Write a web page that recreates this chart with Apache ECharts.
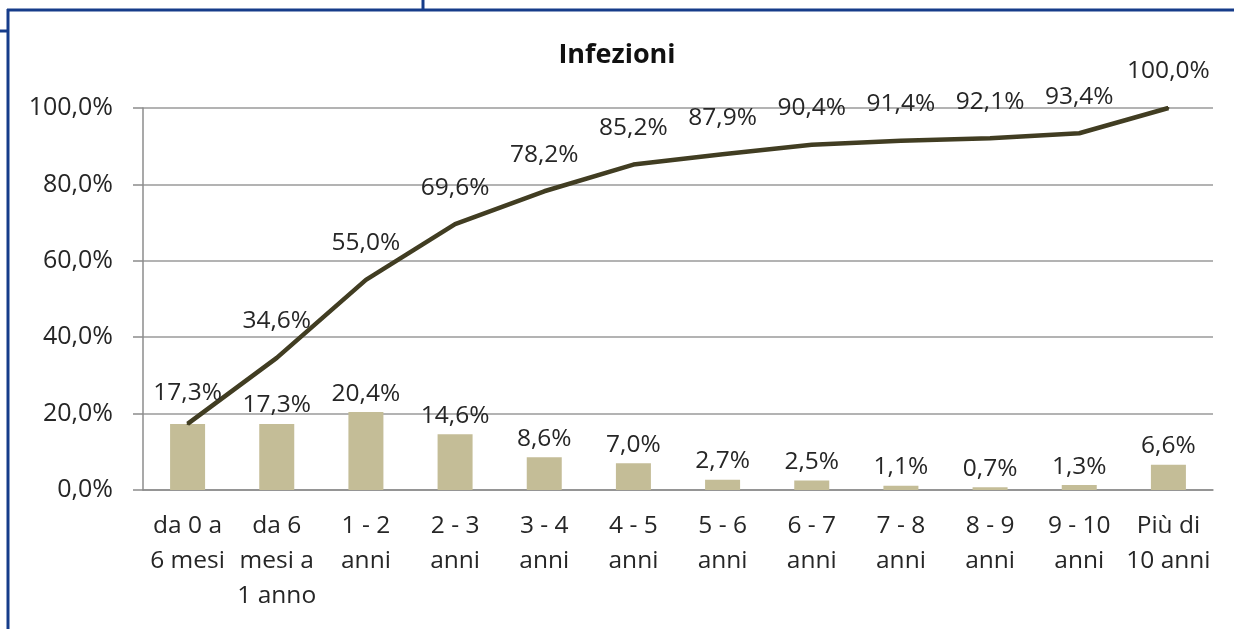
<!DOCTYPE html>
<html>
<head>
<meta charset="utf-8">
<script src="https://cdn.jsdelivr.net/npm/echarts@6/dist/echarts.min.js"></script>
<style>
  html, body { margin: 0; padding: 0; background: #fff; }
  #chart { width: 1234px; height: 629px; }
</style>
</head>
<body>
<div id="chart"></div>
<script>
// fasce d'età
const categories = [
  'da 0 a\n6 mesi', 'da 6\nmesi a\n1 anno', '1 - 2\nanni', '2 - 3\nanni',
  '3 - 4\nanni', '4 - 5\nanni', '5 - 6\nanni', '6 - 7\nanni',
  '7 - 8\nanni', '8 - 9\nanni', '9 - 10\nanni', 'Più di\n10 anni'
];
// percentuale per fascia (barre)
const perc = [17.3, 17.3, 20.4, 14.6, 8.6, 7.0, 2.7, 2.5, 1.1, 0.7, 1.3, 6.6];
// percentuale cumulata (linea)
const cumulata = [17.3, 34.6, 55.0, 69.6, 78.2, 85.2, 87.9, 90.4, 91.4, 92.1, 93.4, 100.0];

const fmt = v => v.toFixed(1).replace('.', ',') + '%';
const font = '"Open Sans", "Liberation Sans", sans-serif';
const blu = '#163c8a';
const testo = '#262626';

const chart = echarts.init(document.getElementById('chart'));
chart.setOption({
  animation: false,
  textStyle: { fontFamily: font },
  title: {
    text: 'Infezioni',
    left: 'center',
    top: 37,
    textStyle: { fontSize: 27, fontWeight: 'bold', color: '#111', fontFamily: font }
  },
  grid: { left: 143, right: 21, top: 108, bottom: 139 },
  xAxis: {
    type: 'category',
    data: categories,
    axisLine: { lineStyle: { color: '#8c8c8c', width: 1.5 } },
    axisTick: { length: 10, lineStyle: { color: '#8c8c8c', width: 1.5 } },
    axisLabel: { interval: 0, fontSize: 24.5, lineHeight: 35, color: testo, margin: 19 }
  },
  yAxis: {
    type: 'value',
    min: 0, max: 100, interval: 20,
    axisLine: { show: true, lineStyle: { color: '#8c8c8c', width: 1.5 } },
    axisTick: { show: true, length: 10, lineStyle: { color: '#8c8c8c', width: 1.5 } },
    splitLine: { lineStyle: { color: '#9a9a9a', width: 1.5 } },
    axisLabel: { fontSize: 25, color: testo, margin: 30, formatter: fmt }
  },
  series: [
    {
      type: 'bar',
      barWidth: 35,
      data: perc.map((v, i) => i === 0 ? { value: v, label: { show: false } } : v),
      itemStyle: { color: '#c4bd97' },
      label: {
        show: true, position: 'top', distance: 6,
        fontSize: 24.5, color: testo,
        formatter: p => fmt(p.value)
      }
    },
    {
      type: 'line',
      data: cumulata.map((v, i) => i === 0 ? { value: v, label: { distance: 17 } } : v),
      symbol: 'circle',
      symbolSize: 2,
      showSymbol: true,
      itemStyle: { color: '#413d22' },
      lineStyle: { color: '#413d22', width: 4.5 },
      label: {
        show: true, position: 'top', distance: 23,
        fontSize: 24.5, color: testo,
        formatter: p => fmt(p.value)
      },
      labelLayout: { hideOverlap: false },
      z: 3
    }
  ],
  graphic: [
    { type: 'line', shape: { x1: 7, y1: 10, x2: 1234, y2: 10 }, style: { stroke: blu, lineWidth: 3 } },
    { type: 'line', shape: { x1: 8, y1: 9, x2: 8, y2: 629 }, style: { stroke: blu, lineWidth: 3 } },
    { type: 'line', shape: { x1: 0, y1: 31, x2: 8, y2: 31 }, style: { stroke: blu, lineWidth: 3 } },
    { type: 'line', shape: { x1: 423, y1: 0, x2: 423, y2: 10 }, style: { stroke: blu, lineWidth: 3 } }
  ]
});
</script>
</body>
</html>
